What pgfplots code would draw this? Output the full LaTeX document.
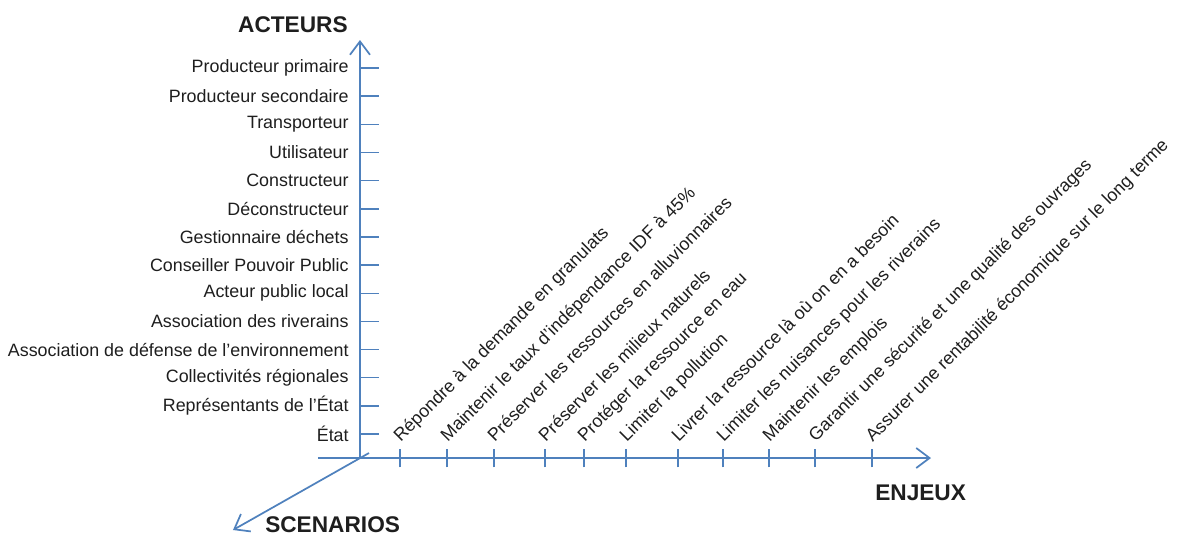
\documentclass[border=0pt]{standalone}
\usepackage{fontspec}
\setmainfont{Liberation Sans}
\usepackage{pgfplots}
\pgfplotsset{compat=1.18}
\usetikzlibrary{arrows.meta}
\definecolor{axblue}{RGB}{79,129,189}
\definecolor{txt}{RGB}{30,30,30}

\begin{document}
\begin{tikzpicture}
\begin{axis}[
    scale only axis,
    width=459.75pt,
    height=313.5pt,
    xmin=-42, xmax=571,
    ymin=0, ymax=418,
    axis lines=middle,
    clip=false,
    axis line style={axblue, line width=1.3pt,
        -{Straight Barb[length=10pt, width=15pt, line width=1.3pt]}},
    tick style={axblue, line width=1.1pt},
    major tick length=14pt,
    xtick align=center,
    ytick align=inside,
    xtick={40,87,134,185,224,266,318,363,409,455,512},
    xticklabels={
        {Répondre à la demande en granulats},
        {Maintenir le taux d’indépendance IDF à 45\%},
        {Préserver les ressources en alluvionnaires},
        {Préserver les milieux naturels},
        {Protéger la ressource en eau},
        {Limiter la pollution},
        {Livrer la ressource là où on en a besoin},
        {Limiter les nuisances pour les riverains},
        {Maintenir les emplois},
        {Garantir une sécurité et une qualité des ouvrages},
        {Assurer une rentabilité économique sur le long terme}},
    ytick={24,52.15,80.3,108.45,136.6,164.75,192.9,221.05,249.2,277.35,305.5,333.65,361.8,389.95},
    yticklabels={
        {État},
        {Représentants de l’État},
        {Collectivités régionales},
        {Association de défense de l’environnement},
        {Association des riverains},
        {Acteur public local},
        {Conseiller Pouvoir Public},
        {Gestionnaire déchets},
        {Déconstructeur},
        {Constructeur},
        {Utilisateur},
        {Transporteur},
        {Producteur secondaire},
        {Producteur primaire}},
    ticklabel style={font=\fontsize{13.4}{15}\selectfont, text=txt},
    yticklabel style={anchor=east, xshift=-5pt},
    xticklabel style={anchor=base west, inner sep=0pt, xshift=0.5pt, yshift=18.5pt, rotate=45},
]
% third axis (scenarios)
\draw[axblue, line width=1.3pt, -{Straight Barb[length=10pt, width=15pt, line width=1.3pt]}]
    (axis cs:9,5) -- (axis cs:-127,-72);
\node[anchor=base east, inner sep=0pt, font=\bfseries\fontsize{17}{20}\selectfont, text=txt]
    at (axis cs:-12,426) {ACTEURS};
\node[anchor=base west, inner sep=0pt, font=\bfseries\fontsize{17}{20}\selectfont, text=txt]
    at (axis cs:515,-42) {ENJEUX};
\node[anchor=base west, inner sep=0pt, font=\bfseries\fontsize{17}{20}\selectfont, text=txt]
    at (axis cs:-95,-74) {SCENARIOS};
\coordinate (bbsw) at (axis cs:-360,-79);
\coordinate (bbne) at (axis cs:817,458);
\end{axis}
\pgfresetboundingbox
\path[use as bounding box] (bbsw) rectangle (bbne);
\end{tikzpicture}
\end{document}
